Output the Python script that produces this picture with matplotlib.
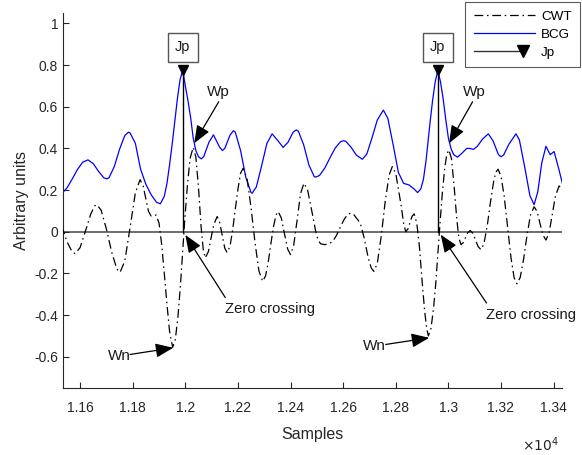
import matplotlib
matplotlib.use("Agg")
import matplotlib.pyplot as plt
from matplotlib.lines import Line2D
from matplotlib.legend_handler import HandlerLine2D

plt.rcParams['font.family'] = ['Liberation Sans', 'DejaVu Sans']
plt.rcParams['axes.unicode_minus'] = False

# ---------------- data ----------------
bcg_x = [11530, 11550, 11570, 11590, 11610, 11630, 11650, 11670, 11690, 11702,
         11710, 11730, 11750, 11770, 11784, 11790, 11810, 11830, 11850, 11870,
         11890, 11905, 11920, 11930, 11940, 11950, 11960, 11970, 11980, 11990,
         12000, 12010, 12020, 12030, 12040, 12050, 12061, 12070, 12090, 12107,
         12130, 12141, 12150, 12170, 12183, 12190, 12210, 12230, 12250, 12254,
         12270, 12290, 12310, 12330, 12350, 12372, 12390, 12410, 12422, 12430,
         12450, 12470, 12490, 12495, 12510, 12530, 12550, 12570, 12590, 12601,
         12610, 12630, 12650, 12673, 12690, 12710, 12730, 12753, 12770, 12790,
         12810, 12830, 12850, 12870, 12883, 12895, 12905, 12915, 12930, 12940,
         12950, 12960, 12970, 12980, 12990, 13000, 13010, 13020, 13035, 13050,
         13070, 13082, 13095, 13110, 13130, 13152, 13170, 13190, 13200, 13210,
         13230, 13257, 13270, 13290, 13310, 13326, 13340, 13355, 13371, 13387,
         13402, 13420, 13436]
bcg_y = [0.183, 0.210, 0.253, 0.299, 0.334, 0.345, 0.327, 0.290, 0.259, 0.254,
         0.259, 0.313, 0.396, 0.462, 0.478, 0.474, 0.425, 0.300, 0.228, 0.178,
         0.142, 0.134, 0.170, 0.230, 0.320, 0.420, 0.530, 0.640, 0.730, 0.775,
         0.700, 0.630, 0.550, 0.450, 0.390, 0.360, 0.350, 0.361, 0.430, 0.465,
         0.407, 0.390, 0.400, 0.464, 0.485, 0.478, 0.390, 0.261, 0.188, 0.185,
         0.215, 0.316, 0.424, 0.470, 0.440, 0.405, 0.429, 0.478, 0.489, 0.482,
         0.417, 0.320, 0.265, 0.262, 0.270, 0.305, 0.355, 0.402, 0.432, 0.437,
         0.434, 0.406, 0.368, 0.348, 0.373, 0.452, 0.537, 0.584, 0.544, 0.418,
         0.285, 0.232, 0.225, 0.205, 0.188, 0.205, 0.250, 0.340, 0.520, 0.630,
         0.720, 0.775, 0.720, 0.640, 0.540, 0.450, 0.400, 0.370, 0.358, 0.375,
         0.400, 0.400, 0.395, 0.410, 0.445, 0.470, 0.436, 0.371, 0.360, 0.368,
         0.420, 0.470, 0.441, 0.312, 0.173, 0.130, 0.192, 0.330, 0.410, 0.370,
         0.385, 0.300, 0.220]

cwt_x = [11530, 11550, 11570, 11581, 11600, 11620, 11640, 11655, 11664, 11680,
         11700, 11720, 11740, 11752, 11770, 11790, 11810, 11828, 11840, 11850,
         11860, 11870, 11880, 11889, 11900, 11910, 11920, 11930, 11940, 11952,
         11962, 11972, 11982, 11990, 11998, 12008, 12018, 12030, 12040, 12050,
         12060, 12068, 12076, 12088, 12098, 12108, 12121, 12130, 12140, 12150,
         12159, 12170, 12180, 12190, 12200, 12210, 12220, 12235, 12250, 12265,
         12280, 12294, 12305, 12315, 12325, 12335, 12345, 12353, 12365, 12377,
         12389, 12400, 12412, 12425, 12438, 12451, 12465, 12480, 12495, 12505,
         12515, 12530, 12545, 12560, 12575, 12590, 12605, 12618, 12629, 12640,
         12654, 12665, 12680, 12695, 12707, 12717, 12730, 12745, 12760, 12775,
         12787, 12800, 12812, 12820, 12830, 12838, 12846, 12854, 12862, 12870,
         12880, 12890, 12900, 12910, 12918, 12924, 12934, 12944, 12952, 12960,
         12968, 12976, 12986, 12994, 13002, 13012, 13022, 13032, 13040, 13048,
         13056, 13065, 13074, 13083, 13093, 13103, 13113, 13124, 13135, 13148,
         13160, 13172, 13180, 13189, 13200, 13212, 13225, 13238, 13250, 13261,
         13273, 13286, 13299, 13312, 13326, 13337, 13348, 13359, 13371, 13383,
         13395, 13407, 13421, 13436]
cwt_y = [0.029, -0.048, -0.097, -0.105, -0.076, 0.002, 0.083, 0.124, 0.130, 0.103,
         0.013, -0.097, -0.180, -0.195, -0.140, 0.020, 0.187, 0.250, 0.218, 0.157,
         0.098, 0.075, 0.078, 0.080, 0.042, -0.060, -0.199, -0.345, -0.477, -0.555,
         -0.517, -0.408, -0.248, -0.094, 0.059, 0.223, 0.352, 0.405, 0.359, 0.214,
         0.023, -0.083, -0.126, -0.094, -0.029, 0.033, 0.073, 0.049, -0.014, -0.079,
         -0.100, -0.069, 0.009, 0.109, 0.204, 0.281, 0.305, 0.253, 0.115, -0.053,
         -0.189, -0.238, -0.212, -0.148, -0.060, 0.023, 0.081, 0.097, 0.066, -0.010,
         -0.083, -0.110, -0.065, 0.056, 0.183, 0.233, 0.200, 0.105, 0.006, -0.042,
         -0.058, -0.062, -0.058, -0.047, -0.017, 0.025, 0.062, 0.084, 0.090, 0.083,
         0.060, 0.042, -0.030, -0.123, -0.175, -0.190, -0.151, -0.019, 0.147, 0.273,
         0.313, 0.280, 0.190, 0.130, 0.040, 0.000, 0.013, 0.043, 0.074, 0.086,
         0.041, -0.072, -0.235, -0.383, -0.467, -0.500, -0.464, -0.363, -0.250, -0.107,
         0.036, 0.170, 0.304, 0.372, 0.393, 0.350, 0.216, 0.061, -0.030, -0.062,
         -0.053, -0.029, -0.004, 0.006, -0.007, -0.039, -0.071, -0.086, -0.059, 0.030,
         0.142, 0.240, 0.285, 0.300, 0.267, 0.173, 0.025, -0.124, -0.221, -0.250,
         -0.220, -0.132, -0.017, 0.079, 0.120, 0.098, 0.042, -0.014, -0.040, -0.005,
         0.082, 0.171, 0.220, 0.200]

jp_x = [11990, 12960]
jp_y = [0.775, 0.775]

xticks = [11600, 11800, 12000, 12200, 12400, 12600, 12800, 13000, 13200, 13400]
xticklabels = ['1.16', '1.18', '1.2', '1.22', '1.24', '1.26', '1.28', '1.3', '1.32', '1.34']
yticks = [-0.6, -0.4, -0.2, 0, 0.2, 0.4, 0.6, 0.8, 1.0]
yticklabels = ['-0.6', '-0.4', '-0.2', '0', '0.2', '0.4', '0.6', '0.8', '1']

# annotation anchors (data coordinates)
wp_tips = [(12034, 0.425), (13003, 0.425)]
wp_tails = [(12127, 0.624), (13092, 0.624)]
wp_text = [(12126, 0.672), (13098, 0.672)]
zc_tips = [(12000, -0.015), (12971, -0.014)]
zc_tails = [(12152, -0.316), (13145, -0.342)]
zc_text = [(12150, -0.369), (13143, -0.402)]
wn_tips = [(11954, -0.557), (12927, -0.509)]
wn_tails = [(11790, -0.589), (12762, -0.541)]
wn_text = [(11792, -0.597), (12764, -0.546)]

# ---------------- figure ----------------
fig = plt.figure(figsize=(5.82, 4.55), dpi=100)
ax = fig.add_axes([63 / 582, 1 - 388 / 455, (562 - 63) / 582, (388 - 13) / 455])

axc = '#262626'
txtc = '#1a1a1a'
ax.axhline(0, color='#555555', lw=1.2, zorder=1)

cwt_line, = ax.plot(cwt_x, cwt_y, color='black', lw=0.9, zorder=3)
cwt_line.set_dashes([7, 3, 1.2, 3])
bcg_line, = ax.plot(bcg_x, bcg_y, color='#0000ff', lw=0.9, zorder=2)

for xv, yv in zip(jp_x, jp_y):
    ax.plot([xv, xv], [0, yv], color='black', lw=1.0, zorder=4)
    ax.plot([xv], [yv], marker='v', color='black', ms=7, ls='none', zorder=5)
    ax.text(xv, 0.885, 'Jp', ha='center', va='center', fontsize=10.5, color=txtc,
            bbox=dict(boxstyle='square,pad=0.5', fc='white', ec='#555555', lw=1.0), zorder=6)

arrow_kw = dict(arrowstyle='-|>,head_length=0.9,head_width=0.36', color='black',
                lw=0.9, mutation_scale=12, shrinkA=0, shrinkB=0)


def arrow(tail, tip):
    ax.annotate('', xy=tip, xytext=tail, arrowprops=arrow_kw, annotation_clip=False, zorder=7)


for tl, tp, tx in zip(wp_tails, wp_tips, wp_text):
    arrow(tl, tp)
    ax.text(tx[0], tx[1], 'Wp', ha='center', va='center', fontsize=11, color=txtc)
for tl, tp, tx in zip(zc_tails, zc_tips, zc_text):
    arrow(tl, tp)
    ax.text(tx[0], tx[1], 'Zero crossing', ha='left', va='center', fontsize=10.6,
            color=txtc, clip_on=False)
for tl, tp, tx in zip(wn_tails, wn_tips, wn_text):
    arrow(tl, tp)
    ax.text(tx[0], tx[1], 'Wn', ha='right', va='center', fontsize=11, color=txtc)

ax.set_xlim(11535, 13432)
ax.set_ylim(-0.75, 1.05)
ax.set_xticks(xticks)
ax.set_xticklabels(xticklabels)
ax.set_yticks(yticks)
ax.set_yticklabels(yticklabels)

for s in ['top', 'right']:
    ax.spines[s].set_visible(False)
for s in ['left', 'bottom']:
    ax.spines[s].set_color(axc)
    ax.spines[s].set_linewidth(0.8)
ax.tick_params(direction='in', length=4, width=0.8, colors=axc, labelsize=10)
ax.tick_params(axis='x', pad=9)
ax.tick_params(axis='y', pad=3.5)

ax.set_xlabel('Samples', fontsize=11.5, color=axc, labelpad=9)
ax.set_ylabel('Arbitrary units', fontsize=11.5, color=axc, labelpad=4)
fig.text(540 / 582, 1 - 445 / 455, r'$\times10^{4}$', fontsize=10, color=axc,
         ha='center', va='center')

# legend
jp_handle = Line2D([], [], color='#333333', lw=1.0, marker='v', mfc='black', mec='black', ms=8)


class RightMarkerHandler(HandlerLine2D):
    def create_artists(self, legend, orig_handle, xdescent, ydescent, width, height,
                       fontsize, trans):
        arts = super().create_artists(legend, orig_handle, xdescent, ydescent, width,
                                      height, fontsize, trans)
        for a in arts:
            if isinstance(a, Line2D) and len(a.get_xdata()) == 3:
                xd = list(a.get_xdata())
                x_end = xd[0] + 0.8 * (xd[2] - xd[0])
                a.set_xdata([xd[0], (xd[0] + x_end) / 2, x_end])
                a.set_markevery([2])
        return arts


leg = fig.legend([cwt_line, bcg_line, jp_handle], ['CWT', 'BCG', 'Jp'],
                 loc='upper right', bbox_to_anchor=(580 / 582, 1 - 2 / 455),
                 fontsize=9.7, frameon=True, fancybox=False, handlelength=4.55,
                 handletextpad=0.45, borderpad=0.62, labelspacing=0.42,
                 borderaxespad=0, handler_map={jp_handle: RightMarkerHandler()})
leg.get_frame().set_edgecolor('#333333')
leg.get_frame().set_linewidth(0.8)

fig.savefig('out.png', dpi=100)
